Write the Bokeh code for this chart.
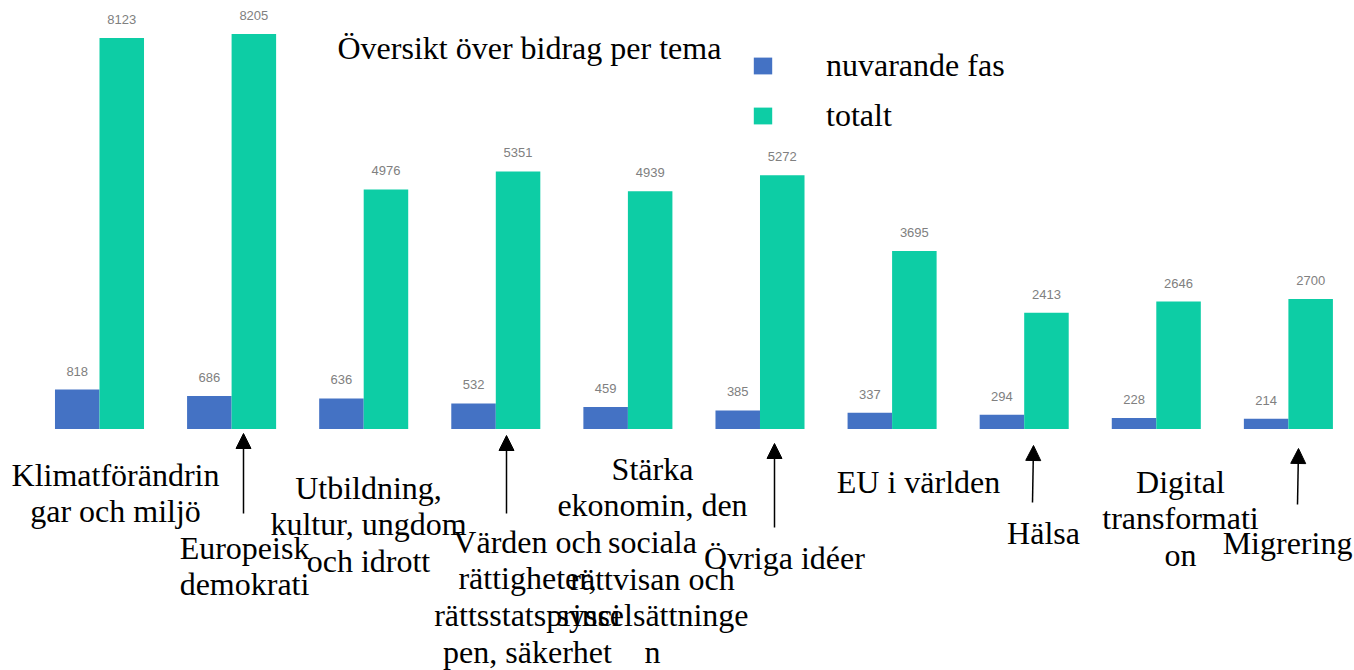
from bokeh.plotting import figure
from bokeh.models import (ColumnDataSource, Range1d, Label, LabelSet, Arrow,
                          NormalHead, Legend, LegendItem)
from bokeh.transform import dodge
from bokeh.core.properties import value
from bokeh.embed import file_html
from bokeh.resources import INLINE

# ---------------- data ----------------
categories = [
    "Klimatförändrin\ngar och miljö",
    "Europeisk\ndemokrati",
    "Utbildning,\nkultur, ungdom\noch idrott",
    "Värden och\nrättigheter,\nrättsstatsprinci\npen, säkerhet",
    "Stärka\nekonomin, den\nsociala\nrättvisan och\nsysselsättninge\nn",
    "Övriga idéer",
    "EU i världen",
    "Hälsa",
    "Digital\ntransformati\non",
    "Migrering",
]
nuvarande_fas = [818, 686, 636, 532, 459, 385, 337, 294, 228, 214]
totalt = [8123, 8205, 4976, 5351, 4939, 5272, 3695, 2413, 2646, 2700]
series_names = ["nuvarande fas", "totalt"]
title_text = "Översikt över bidrag per tema"

# ---------------- layout ----------------
W, H = 1354, 670
X0 = -0.7494
X1 = X0 + W / 132.1
Y1 = 428.5 / 0.04814
Y0 = -(H - 428.5) / 0.04814
BLUE = "#4472C4"
TEAL = "#0DCDA5"
SERIF = "Liberation Serif"


def dx(px):
    return X0 + px * (X1 - X0) / W


def dy(py):
    return Y1 - py * (Y1 - Y0) / H


p = figure(width=W, height=H, output_backend="svg", toolbar_location=None,
           x_range=Range1d(X0, X1), y_range=Range1d(Y0, Y1),
           x_axis_location=None, y_axis_location=None, min_border=0,
           outline_line_color=None, background_fill_color="white",
           border_fill_color="white")
p.grid.grid_line_color = None

idx = list(range(len(categories)))
src = ColumnDataSource(dict(
    x=idx,
    nuv=nuvarande_fas,
    tot=totalt,
    nuv_s=[str(v) for v in nuvarande_fas],
    tot_s=[str(v) for v in totalt],
))

BW = 0.337
r1 = p.vbar(x=dodge("x", -BW / 2, range=p.x_range), top="nuv", bottom=0,
            width=BW, source=src, fill_color=BLUE, line_color=None)
r2 = p.vbar(x=dodge("x", BW / 2, range=p.x_range), top="tot", bottom=0,
            width=BW, source=src, fill_color=TEAL, line_color=None)

for tcol, ycol, sh in (("nuv_s", "nuv", -BW / 2), ("tot_s", "tot", BW / 2)):
    p.add_layout(LabelSet(x=dodge("x", sh, range=p.x_range), y=ycol,
                          text=tcol, source=src, y_offset=14,
                          text_align="center", text_baseline="alphabetic",
                          text_font=value("Liberation Sans"),
                          text_font_size=value("13px"),
                          text_color="#808080"))

# title
p.add_layout(Label(x=dx(337), y=dy(47), text=title_text, text_font=SERIF,
                   text_font_size="32px", text_color="black",
                   text_baseline="alphabetic", text_align="left"))

# legend
legend = Legend(items=[LegendItem(label=series_names[0], renderers=[r1]),
                       LegendItem(label=series_names[1], renderers=[r2])],
                location=(751, 533), glyph_width=23, glyph_height=21,
                label_height=44, label_text_baseline="top",
                label_standoff=52, spacing=6, padding=0, margin=0,
                border_line_color=None, background_fill_alpha=0,
                label_text_font=SERIF, label_text_font_size="32px",
                label_text_color="black")
p.add_layout(legend)

# category labels (picture coords: centre x, first-line baseline)
label_cx = [115, 244, 368, 527, 652, 784, 918, 1043, 1180, 1287]
label_base = [485, 558, 498, 552, 479, 568, 492, 543, 492, 553]
for txt, cx, by in zip(categories, label_cx, label_base):
    p.add_layout(Label(x=dx(cx), y=dy(by - 29), text=txt, text_font=SERIF,
                       text_font_size="32px", text_color="black",
                       text_align="center", text_baseline="top",
                       text_line_height=1.02))

# arrows (picture coords)
arrows = [((243, 513), (243, 433)),
          ((506, 513), (506, 435)),
          ((774, 527), (774, 443)),
          ((1032, 502), (1033, 445)),
          ((1297, 504), (1298, 448))]
for (xs, ys), (xe, ye) in arrows:
    p.add_layout(Arrow(end=NormalHead(size=15, fill_color="black",
                                      line_color="black"),
                       x_start=dx(xs), y_start=dy(ys), x_end=dx(xe),
                       y_end=dy(ye), line_color="black", line_width=1.5))

open("out.html", "w").write(file_html(p, INLINE))
